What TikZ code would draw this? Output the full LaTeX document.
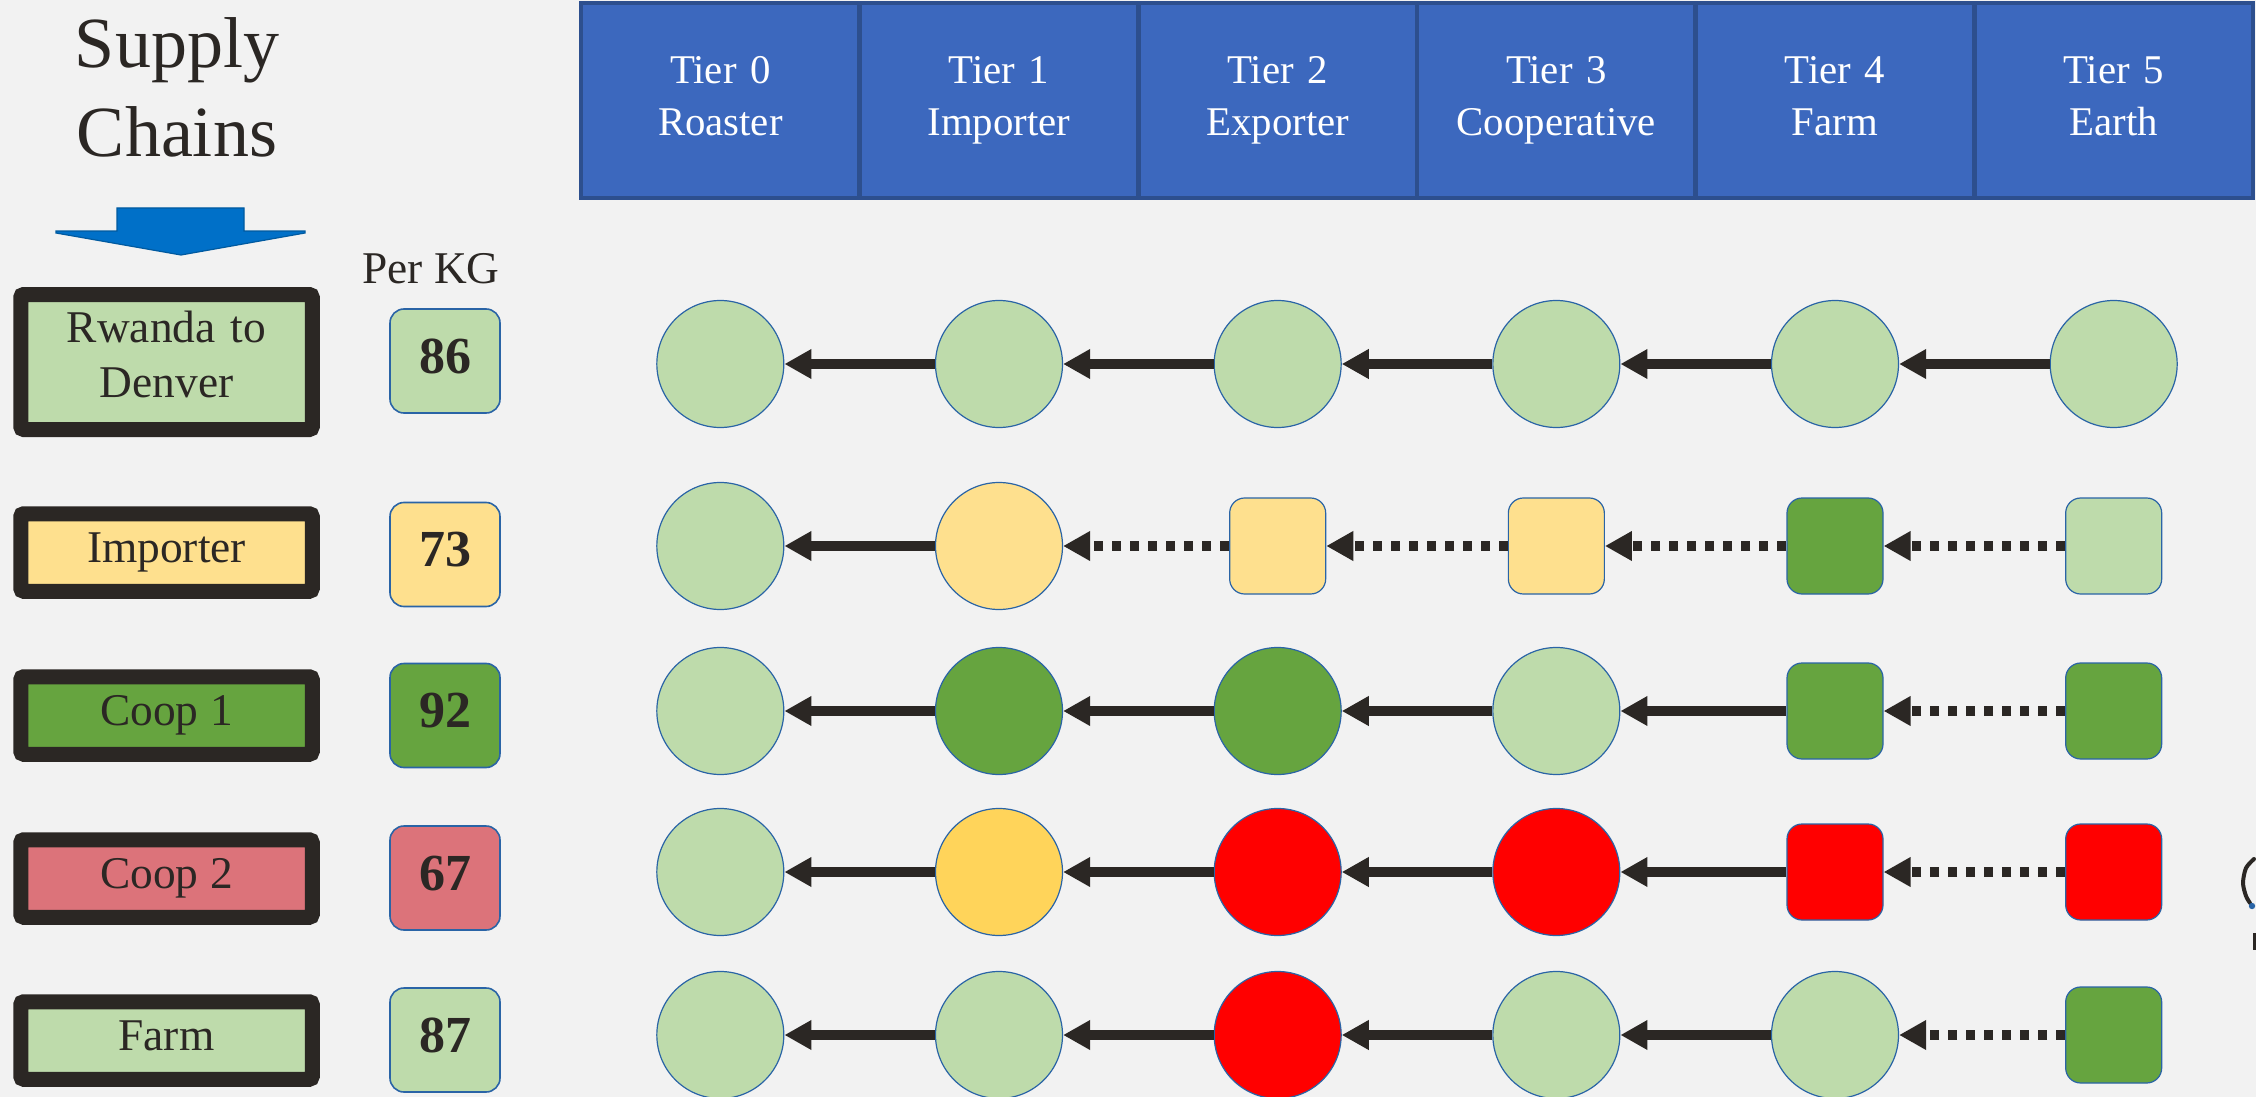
\documentclass[tikz,border=0pt]{standalone}
\usepackage{fontspec}
\setmainfont{Liberation Serif}
\usetikzlibrary{arrows.meta}

\definecolor{paper}{HTML}{F2F2F2}
\definecolor{tierblue}{HTML}{3C68BE}
\definecolor{tierline}{HTML}{2D4F8E}
\definecolor{ink}{HTML}{2B2724}
\definecolor{rim}{HTML}{2A64A6}
\definecolor{lgreen}{HTML}{BEDBAB}
\definecolor{dgreen}{HTML}{66A43F}
\definecolor{lyellow}{HTML}{FEE08E}
\definecolor{gold}{HTML}{FFD45A}
\definecolor{rose}{HTML}{DC737A}
\definecolor{hot}{HTML}{FF0000}
\definecolor{pointer}{HTML}{0070C8}

\tikzset{
  tiercell/.style={rectangle, draw=tierline, line width=2.2pt, fill=tierblue,
    minimum width=139.33pt, minimum height=97.5pt, inner sep=0pt, text=white,
    font=\fontsize{20.4}{26}\selectfont, text width=130pt, align=center,
    text height=13.5pt, text depth=30.5pt},
  ball/.style={circle, draw=rim, line width=0.6pt, minimum size=63.5pt, inner sep=0pt},
  tile/.style={rectangle, rounded corners=7.5pt, draw=rim, line width=0.6pt,
    minimum size=48pt, inner sep=0pt},
  flow/.style={draw=ink, line width=5pt, -{Triangle[length=13.5pt,width=14pt]}},
  sure/.style={},
  unsure/.style={dash pattern=on 4.5pt off 4.5pt},
  chainbox/.style={rectangle, draw=ink, line width=7.5pt, rounded corners=1.5pt,
    minimum width=145.75pt, minimum height=38.75pt, inner sep=0pt, text=ink,
    font=\fontsize{22.7}{28}\selectfont, text height=15pt, text depth=5.5pt},
  valbox/.style={rectangle, draw=rim, line width=0.8pt, rounded corners=7pt,
    minimum width=55pt, minimum height=52pt, inner sep=0pt, text=ink,
    font=\bfseries\fontsize{26}{30}\selectfont, text height=17.5pt, text depth=5.5pt}
}

\begin{document}
\begin{tikzpicture}[x=0.5pt,y=-0.5pt]
  \fill[paper] (0,0) rectangle (2256,1097);
  \useasboundingbox (0,0) rectangle (2256,1097);

  % title and pointer
  \node[anchor=base, text=ink, text width=200pt, align=center,
    font=\fontsize{36}{44.5}\selectfont] (title) at (177,68) {Supply\\Chains};
  \filldraw[fill=pointer, draw=pointer!80!black, line width=0.6pt]
    (117,208) -- (244,208) -- (244,231) -- (305,231) -- (305,233) -- (181,255)
    -- (56,233) -- (56,231) -- (117,231) -- cycle;
  \node[anchor=base, text=ink, font=\fontsize{22.7}{28}\selectfont] (perkg) at (431,283) {Per KG};

  % tier header
  \foreach \i/\lab in {0/Roaster,1/Importer,2/Exporter,3/Cooperative,4/Farm,5/Earth}
    \node[tiercell] (tier\i) at ({720.33+278.67*\i},100.5) {Tier \i\\\lab};

  % chain names and scores
  \node[chainbox, fill=lgreen, minimum height=67.5pt, text width=140pt, align=center,
    text height=15pt, text depth=35pt] (denver) at (166.5,362) {Rwanda to\\Denver};
  \node[chainbox, fill=lyellow] (importer) at (166.5,552.5) {Importer};
  \node[chainbox, fill=dgreen] (coopa) at (166.5,715.5) {Coop 1};
  \node[chainbox, fill=rose] (coopb) at (166.5,878.5) {Coop 2};
  \node[chainbox, fill=lgreen] (farm) at (166.5,1040.5) {Farm};

  \node[valbox, fill=lgreen] (vdenver) at (445,361) {86};
  \node[valbox, fill=lyellow] (vimporter) at (445,554.5) {73};
  \node[valbox, fill=dgreen] (vcoopa) at (445,715.5) {92};
  \node[valbox, fill=rose] (vcoopb) at (445,878) {67};
  \node[valbox, fill=lgreen] (vfarm) at (445,1040) {87};

  % row 1
  \foreach \i in {0,...,5}
    \node[ball, fill=lgreen] (a\i) at ({720.33+278.67*\i},364) {};
  \foreach \i/\j in {0/1,1/2,2/3,3/4,4/5}
    \draw[flow] (a\j) -- (a\i);

  % row 2
  \foreach \i/\s/\c in {0/ball/lgreen,1/ball/lyellow,2/tile/lyellow,3/tile/lyellow,4/tile/dgreen,5/tile/lgreen}
    \node[\s, fill=\c] (b\i) at ({720.33+278.67*\i},546) {};
  \foreach \i/\j/\k in {0/1/sure,1/2/unsure,2/3/unsure,3/4/unsure,4/5/unsure}
    \draw[flow,\k] (b\j) -- (b\i);

  % row 3
  \foreach \i/\s/\c in {0/ball/lgreen,1/ball/dgreen,2/ball/dgreen,3/ball/lgreen,4/tile/dgreen,5/tile/dgreen}
    \node[\s, fill=\c] (c\i) at ({720.33+278.67*\i},711) {};
  \foreach \i/\j/\k in {0/1/sure,1/2/sure,2/3/sure,3/4/sure,4/5/unsure}
    \draw[flow,\k] (c\j) -- (c\i);

  % row 4
  \foreach \i/\s/\c in {0/ball/lgreen,1/ball/gold,2/ball/hot,3/ball/hot,4/tile/hot,5/tile/hot}
    \node[\s, fill=\c] (d\i) at ({720.33+278.67*\i},872) {};
  \foreach \i/\j/\k in {0/1/sure,1/2/sure,2/3/sure,3/4/sure,4/5/unsure}
    \draw[flow,\k] (d\j) -- (d\i);

  % row 5
  \foreach \i/\s/\c in {0/ball/lgreen,1/ball/lgreen,2/ball/hot,3/ball/lgreen,4/ball/lgreen,5/tile/dgreen}
    \node[\s, fill=\c] (e\i) at ({720.33+278.67*\i},1035) {};
  \foreach \i/\j/\k in {0/1/sure,1/2/sure,2/3/sure,3/4/sure,4/5/unsure}
    \draw[flow,\k] (e\j) -- (e\i);

  % clipped icon at the right edge
  \draw[ink, line width=2pt, line cap=round]
    plot[smooth] coordinates {(2254,859) (2246,868) (2243,883) (2246,896) (2250,903)};
  \fill[rim] (2252,906) circle (3.2);
  \fill[ink] (2253,933) rectangle (2256,950);
\end{tikzpicture}
\end{document}
